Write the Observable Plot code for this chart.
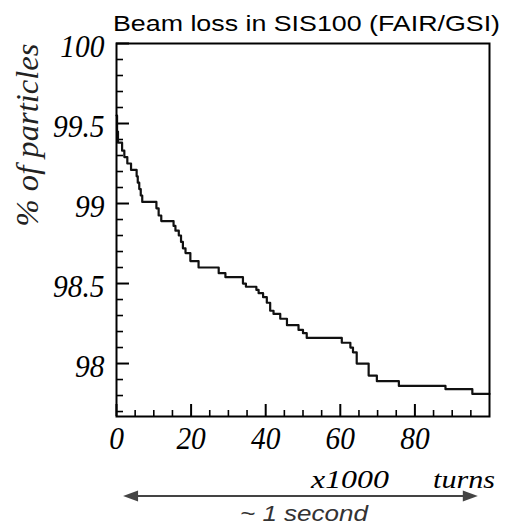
<!DOCTYPE html>
<html><head><meta charset="utf-8">
<script src="https://cdn.jsdelivr.net/npm/d3@7"></script>
<script src="https://cdn.jsdelivr.net/npm/@observablehq/plot@0.6"></script>
<style>
body{margin:0;background:#fff}
.serif text, text.serif{font-family:"Liberation Serif","Times New Roman",serif !important;font-style:italic}
.sans{font-family:"Liberation Sans",Arial,Helvetica,sans-serif}
</style>
</head><body><div id="chart"></div>
<script>
// turns (x1000) at which each level starts, and % of particles remaining
const turns = [0, 0.15, 0.4, 1.5, 2.1, 2.9, 3.9, 5.4, 5.7, 6.1, 6.5, 6.9, 10.7, 11.3, 12.0, 15.3, 15.8, 16.7, 17.3, 17.8, 18.5, 19.8, 22.0, 27.4, 29.2, 33.9, 34.7, 37.5, 38.1, 39.3, 40.3, 41.2, 42.1, 43.9, 45.7, 48.8, 50.0, 51.0, 60.4, 62.7, 63.4, 64.4, 67.6, 69.8, 75.7, 88.2, 95.4, 100];
const percent = [99.55, 99.45, 99.38, 99.33, 99.29, 99.25, 99.21, 99.17, 99.13, 99.09, 99.05, 99.01, 98.97, 98.925, 98.89, 98.86, 98.83, 98.80, 98.76, 98.72, 98.69, 98.64, 98.60, 98.565, 98.54, 98.50, 98.48, 98.46, 98.44, 98.415, 98.38, 98.33, 98.31, 98.28, 98.24, 98.21, 98.19, 98.16, 98.13, 98.10, 98.07, 98.0, 97.925, 97.89, 97.86, 97.84, 97.81, 97.81];
const yTicks = [98, 98.5, 99, 99.5, 100];
const yMinor = [97.7, 97.8, 97.9, 98.1, 98.2, 98.3, 98.4, 98.6, 98.7, 98.8, 98.9, 99.1, 99.2, 99.3, 99.4, 99.6, 99.7, 99.8, 99.9];
const xTicks = [0, 20, 40, 60, 80];
const xMinor = [5, 10, 15, 25, 30, 35, 45, 50, 55, 65, 70, 75, 85, 90, 95];
const title = "Beam loss in SIS100 (FAIR/GSI)";
const yLabel = "% of particles";
const xLabelA = "x1000";
const xLabelB = "turns";
const timeLabel = "~ 1 second";

const W = 510, H = 526, mL = 116, mR = 21, mT = 43, mB = 110;
const frameW = W - mL - mR, frameH = H - mT - mB;
const data = turns.map((t, i) => ({t, p: percent[i]}));

const plot = Plot.plot({
  width: W, height: H,
  marginLeft: mL, marginRight: mR, marginTop: mT, marginBottom: mB,
  x: {domain: [0, 100]},
  y: {domain: [97.669, 100]},
  style: {background: "white", color: "black", overflow: "visible"},
  marks: [
    Plot.axisY(yTicks, {tickSize: 0, tickPadding: 12, dy: 3.5, fontSize: 32, className: "serif", tickFormat: d => String(d), label: null}),
    Plot.axisX(xTicks, {tickSize: 0, tickPadding: 10, fontSize: 32, className: "serif", tickFormat: d => String(d), label: null}),
    Plot.tickY(yTicks, {y: d => d, insetRight: frameW - 13, strokeWidth: 2}),
    Plot.tickY(yMinor, {y: d => d, insetRight: frameW - 7, strokeWidth: 1.6}),
    Plot.tickX(xTicks, {x: d => d, insetTop: frameH - 12, strokeWidth: 2}),
    Plot.tickX(xMinor, {x: d => d, insetTop: frameH - 6, strokeWidth: 1.6}),
    Plot.lineY(data, {x: "t", y: "p", curve: "step-after", stroke: "#111", strokeWidth: 2.2}),
    Plot.frame({stroke: "black", strokeWidth: 2})
  ]
});

const svg = d3.select(plot);
svg.append("text").text(title).attr("class", "sans")
  .attr("x", 306.5).attr("y", 30.5).attr("text-anchor", "middle")
  .attr("font-size", 22).attr("fill", "black")
  .attr("textLength", 387).attr("lengthAdjust", "spacingAndGlyphs");
svg.append("text").text(yLabel).attr("class", "serif")
  .attr("transform", "translate(37.5,135) rotate(-90)").attr("text-anchor", "middle")
  .attr("font-size", 31).attr("fill", "#222")
  .attr("textLength", 183).attr("lengthAdjust", "spacingAndGlyphs");
svg.append("text").text(xLabelA).attr("class", "serif")
  .attr("x", 311).attr("y", 488).attr("text-anchor", "start")
  .attr("font-size", 26).attr("fill", "black")
  .attr("textLength", 78).attr("lengthAdjust", "spacingAndGlyphs");
svg.append("text").text(xLabelB).attr("class", "serif")
  .attr("x", 433).attr("y", 488).attr("text-anchor", "start")
  .attr("font-size", 26).attr("fill", "black")
  .attr("textLength", 62).attr("lengthAdjust", "spacingAndGlyphs");

// double-headed arrow spanning ~1 second
const xs = plot.scale("x");
const ax1 = xs.apply(1.9), ax2 = xs.apply(97);
const ay = 496, hl = 15, hw = 5.5, col = "#444";
svg.append("line").attr("x1", ax1 + hl - 2).attr("x2", ax2 - hl + 2).attr("y1", ay).attr("y2", ay)
  .attr("stroke", col).attr("stroke-width", 2);
svg.append("path").attr("d", `M${ax1},${ay}L${ax1 + hl},${ay - hw}L${ax1 + hl},${ay + hw}Z`).attr("fill", col);
svg.append("path").attr("d", `M${ax2},${ay}L${ax2 - hl},${ay - hw}L${ax2 - hl},${ay + hw}Z`).attr("fill", col);
svg.append("text").text(timeLabel).attr("class", "sans")
  .attr("x", 304).attr("y", 521).attr("text-anchor", "middle")
  .attr("font-style", "italic").attr("font-size", 22).attr("fill", "#333")
  .attr("textLength", 128).attr("lengthAdjust", "spacingAndGlyphs");

document.getElementById("chart").appendChild(plot);

// slightly condense the tick labels, as in the reference
svg.selectAll("g.serif text").each(function () {
  const w = this.getComputedTextLength();
  if (w > 0) {
    this.setAttribute("textLength", (w * 0.92).toFixed(1));
    this.setAttribute("lengthAdjust", "spacingAndGlyphs");
  }
});
</script>
</body></html>
